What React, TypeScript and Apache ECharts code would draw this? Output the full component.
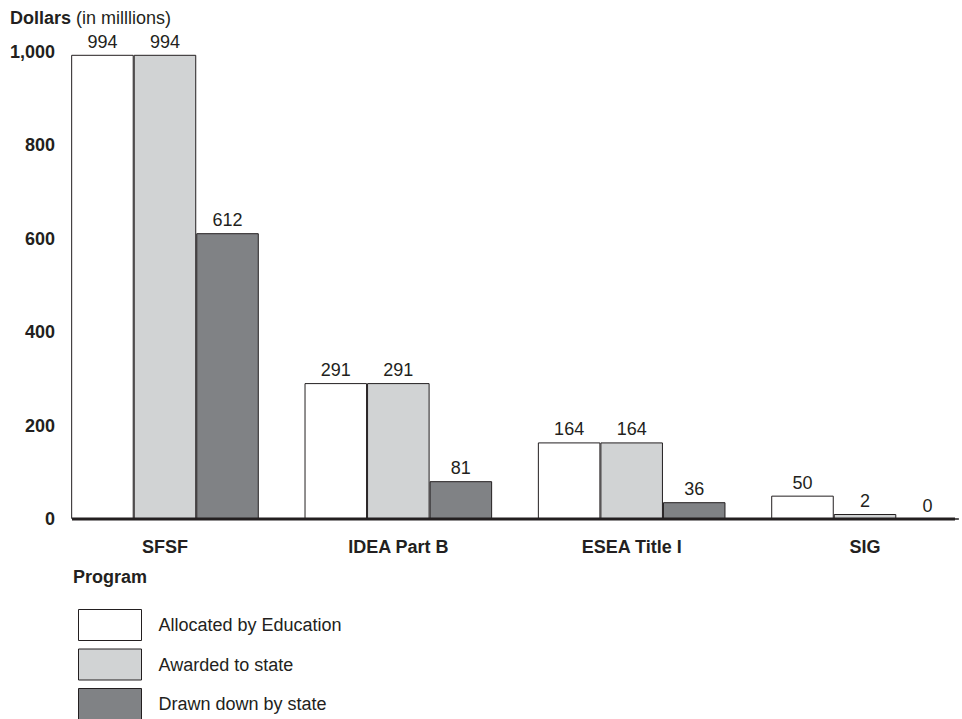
import React, { useEffect, useRef } from "react";
import * as echarts from "echarts";

const categories = ["SFSF", "IDEA Part B", "ESEA Title I", "SIG"];
const allocated = [994, 291, 164, 50];
const awarded = [994, 291, 164, 2];
const drawnDown = [612, 81, 36, 0];
const seriesNames = ["Allocated by Education", "Awarded to state", "Drawn down by state"];
const yTicks = [0, 200, 400, 600, 800, 1000];

const FONT = "'Liberation Sans', Arial, Helvetica, sans-serif";
const INK = "#231f20";

export default function App() {
  const ref = useRef<HTMLDivElement>(null);
  useEffect(() => {
    if (!ref.current) return;
    const chart = echarts.init(ref.current, undefined, { renderer: "svg" });
    const colors = ["#ffffff", "#d1d3d4", "#808285"];
    const data = [allocated, awarded, drawnDown];
    chart.setOption({
      animation: false,
      textStyle: { fontFamily: FONT, color: INK },
      title: [
        {
          text: "{b|Dollars} (in milllions)",
          left: 10,
          top: 9,
          padding: 0,
          textStyle: {
            fontFamily: FONT,
            fontSize: 18,
            fontWeight: "normal",
            color: INK,
            rich: { b: { fontFamily: FONT, fontSize: 18, fontWeight: "bold", color: INK } },
          },
        },
        {
          text: "Program",
          left: 73,
          top: 568,
          padding: 0,
          textStyle: { fontFamily: FONT, fontSize: 18, fontWeight: "bold", color: INK },
        },
      ],
      legend: seriesNames.map((name, i) => ({
        orient: "vertical",
        left: 78,
        top: 609 + i * 39.5,
        padding: 0,
        itemWidth: 63,
        itemHeight: 31,
        icon: "rect",
        data: [name],
        itemStyle: { borderColor: INK, borderWidth: 1 },
        textStyle: { fontFamily: FONT, fontSize: 18, color: INK, padding: [0, 0, 0, 12] },
        selectedMode: false,
      })),
      grid: {
        left: 48.3,
        width: 933.4,
        top: 52,
        bottom: 200,
        containLabel: false,
        outerBoundsMode: "none",
      },
      xAxis: {
        type: "category",
        data: categories,
        axisLine: { show: false },
        axisTick: { show: false },
        axisLabel: { fontFamily: FONT, fontSize: 18, fontWeight: "bold", color: INK, margin: 19 },
      },
      yAxis: {
        type: "value",
        min: yTicks[0],
        max: yTicks[yTicks.length - 1],
        interval: 200,
        offset: -23.7,
        axisLine: { show: false },
        axisTick: { show: false },
        splitLine: { show: false },
        axisLabel: {
          fontFamily: FONT,
          fontSize: 18,
          fontWeight: "bold",
          color: INK,
          margin: 17,
          formatter: (v: number) => v.toLocaleString("en-US"),
        },
      },
      series: seriesNames.map((name, i) => ({
        name,
        type: "bar",
        data: data[i],
        barGap: "0%",
        barCategoryGap: "19.6%",
        barMinHeight: i === 1 ? 5 : 0,
        itemStyle: { color: colors[i], borderColor: INK, borderWidth: 1 },
        label: {
          show: true,
          position: "top",
          distance: 4,
          fontFamily: FONT,
          fontSize: 18,
          color: INK,
        },
      })),
      graphic: [
        {
          type: "line",
          shape: { x1: 72, y1: 519, x2: 955, y2: 519 },
          style: { stroke: INK, lineWidth: 3 },
          z: 100,
        },
      ],
    });
    return () => chart.dispose();
  }, []);
  return <div ref={ref} style={{ width: 962, height: 719, position: "absolute", left: 0, top: 0 }} />;
}
